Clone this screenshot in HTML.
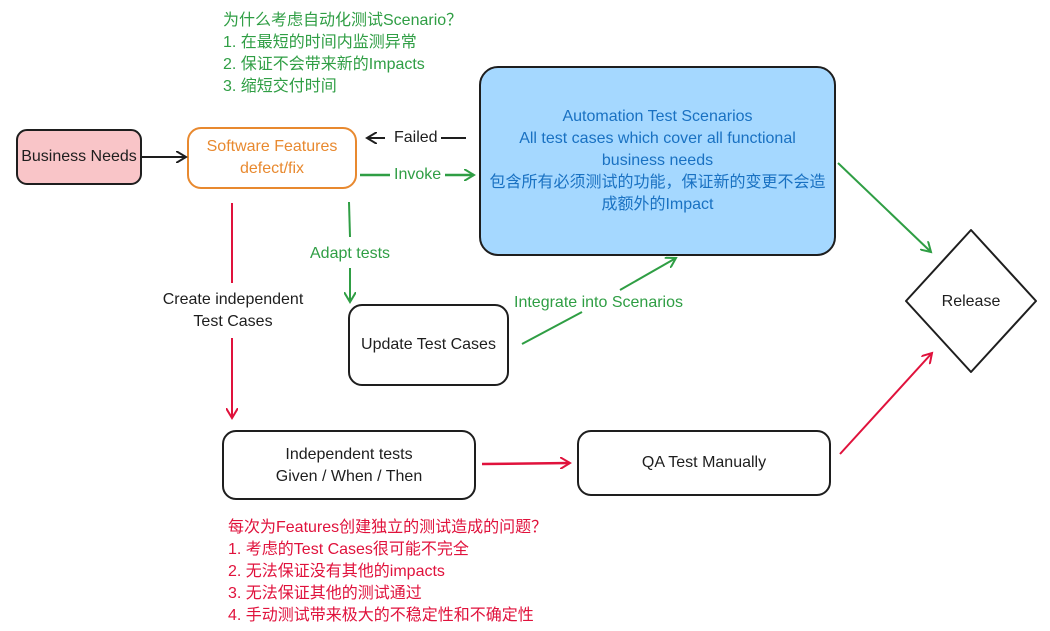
<!DOCTYPE html>
<html><head><meta charset="utf-8"><style>
body{margin:0;width:1050px;height:631px;background:#fff;overflow:hidden;font-family:"Liberation Sans","Noto Sans CJK SC",sans-serif;}
svg{position:absolute;left:0;top:0}
.t{position:absolute;font-size:16px;line-height:22px;white-space:nowrap}
.c{text-align:center}
</style></head><body>
<svg width="1050" height="631">
<defs>
<marker id="ab" markerWidth="12" markerHeight="12" refX="10" refY="6" orient="auto" markerUnits="userSpaceOnUse"><path d="M0,0 L10,6 L0,12" fill="none" stroke="#1e1e1e" stroke-width="2"/></marker>
<marker id="ag" markerWidth="12" markerHeight="12" refX="10" refY="6" orient="auto" markerUnits="userSpaceOnUse"><path d="M0,0 L10,6 L0,12" fill="none" stroke="#2f9e44" stroke-width="2"/></marker>
<marker id="ar" markerWidth="12" markerHeight="12" refX="10" refY="6" orient="auto" markerUnits="userSpaceOnUse"><path d="M0,0 L10,6 L0,12" fill="none" stroke="#e0123c" stroke-width="2"/></marker>
</defs>
<rect x="17" y="130" width="124" height="54" rx="10" fill="#f9c5c8" stroke="#1e1e1e" stroke-width="2"/>
<rect x="188" y="128" width="168" height="60" rx="13" fill="#fff" stroke="#e8892f" stroke-width="2"/>
<rect x="480" y="67" width="355" height="188" rx="18" fill="#a5d8ff" stroke="#1e1e1e" stroke-width="2"/>
<rect x="349" y="305" width="159" height="80" rx="13" fill="#fff" stroke="#1e1e1e" stroke-width="2"/>
<rect x="223" y="431" width="252" height="68" rx="13" fill="#fff" stroke="#1e1e1e" stroke-width="2"/>
<rect x="578" y="431" width="252" height="64" rx="13" fill="#fff" stroke="#1e1e1e" stroke-width="2"/>
<path d="M971,230 L1036,301 L971,372 L906,301 Z" fill="#fff" stroke="#1e1e1e" stroke-width="2" stroke-linejoin="round"/>
<line x1="142" y1="157" x2="186" y2="157" stroke="#1e1e1e" stroke-width="2" marker-end="url(#ab)"/>
<line x1="466" y1="138" x2="441" y2="138" stroke="#1e1e1e" stroke-width="2"/>
<line x1="385" y1="138" x2="367" y2="138" stroke="#1e1e1e" stroke-width="2" marker-end="url(#ab)"/>
<line x1="360" y1="175" x2="390" y2="175" stroke="#2f9e44" stroke-width="2.5"/>
<line x1="445" y1="175" x2="474" y2="175" stroke="#2f9e44" stroke-width="2.5" marker-end="url(#ag)"/>
<line x1="349" y1="202" x2="350" y2="237" stroke="#2f9e44" stroke-width="2"/>
<line x1="350" y1="268" x2="350" y2="302" stroke="#2f9e44" stroke-width="2" marker-end="url(#ag)"/>
<line x1="522" y1="344" x2="582" y2="312" stroke="#2f9e44" stroke-width="2"/>
<line x1="620" y1="290" x2="676" y2="258" stroke="#2f9e44" stroke-width="2" marker-end="url(#ag)"/>
<line x1="838" y1="163" x2="931" y2="252" stroke="#2f9e44" stroke-width="2" marker-end="url(#ag)"/>
<line x1="232" y1="203" x2="232" y2="283" stroke="#e0123c" stroke-width="2"/>
<line x1="232" y1="338" x2="232" y2="418" stroke="#e0123c" stroke-width="2" marker-end="url(#ar)"/>
<line x1="482" y1="464" x2="570" y2="463" stroke="#e0123c" stroke-width="2.5" marker-end="url(#ar)"/>
<line x1="840" y1="454" x2="932" y2="353" stroke="#e0123c" stroke-width="2" marker-end="url(#ar)"/>
</svg>
<div class="t" style="left:223px;top:10px;color:#2f9e44">为什么考虑自动化测试Scenario？<br>1. 在最短的时间内监测异常<br>2. 保证不会带来新的Impacts<br>3. 缩短交付时间</div>
<div class="t c" style="left:17px;top:146px;width:124px;color:#1e1e1e">Business Needs</div>
<div class="t c" style="left:188px;top:136px;width:168px;color:#e8892f">Software Features<br>defect/fix</div>
<div class="t" style="left:394px;top:127px;color:#1e1e1e">Failed</div>
<div class="t" style="left:394px;top:164px;color:#2f9e44">Invoke</div>
<div class="t c" style="left:480px;top:106px;width:355px;color:#1971c2">Automation Test Scenarios<br>All test cases which cover all functional<br>business needs<br>包含所有必须测试的功能，保证新的变更不会造<br>成额外的Impact</div>
<div class="t" style="left:310px;top:243px;color:#2f9e44">Adapt tests</div>
<div class="t" style="left:514px;top:292px;color:#2f9e44">Integrate into Scenarios</div>
<div class="t c" style="left:140px;top:289px;width:186px;color:#1e1e1e">Create independent<br>Test Cases</div>
<div class="t c" style="left:349px;top:334px;width:159px;color:#1e1e1e">Update Test Cases</div>
<div class="t c" style="left:223px;top:444px;width:252px;color:#1e1e1e">Independent tests<br>Given / When / Then</div>
<div class="t c" style="left:578px;top:452px;width:252px;color:#1e1e1e">QA Test Manually</div>
<div class="t c" style="left:906px;top:291px;width:130px;color:#1e1e1e">Release</div>
<div class="t" style="left:228px;top:517px;color:#e0123c">每次为Features创建独立的测试造成的问题？<br>1. 考虑的Test Cases很可能不完全<br>2. 无法保证没有其他的impacts<br>3. 无法保证其他的测试通过<br>4. 手动测试带来极大的不稳定性和不确定性</div>
</body></html>
